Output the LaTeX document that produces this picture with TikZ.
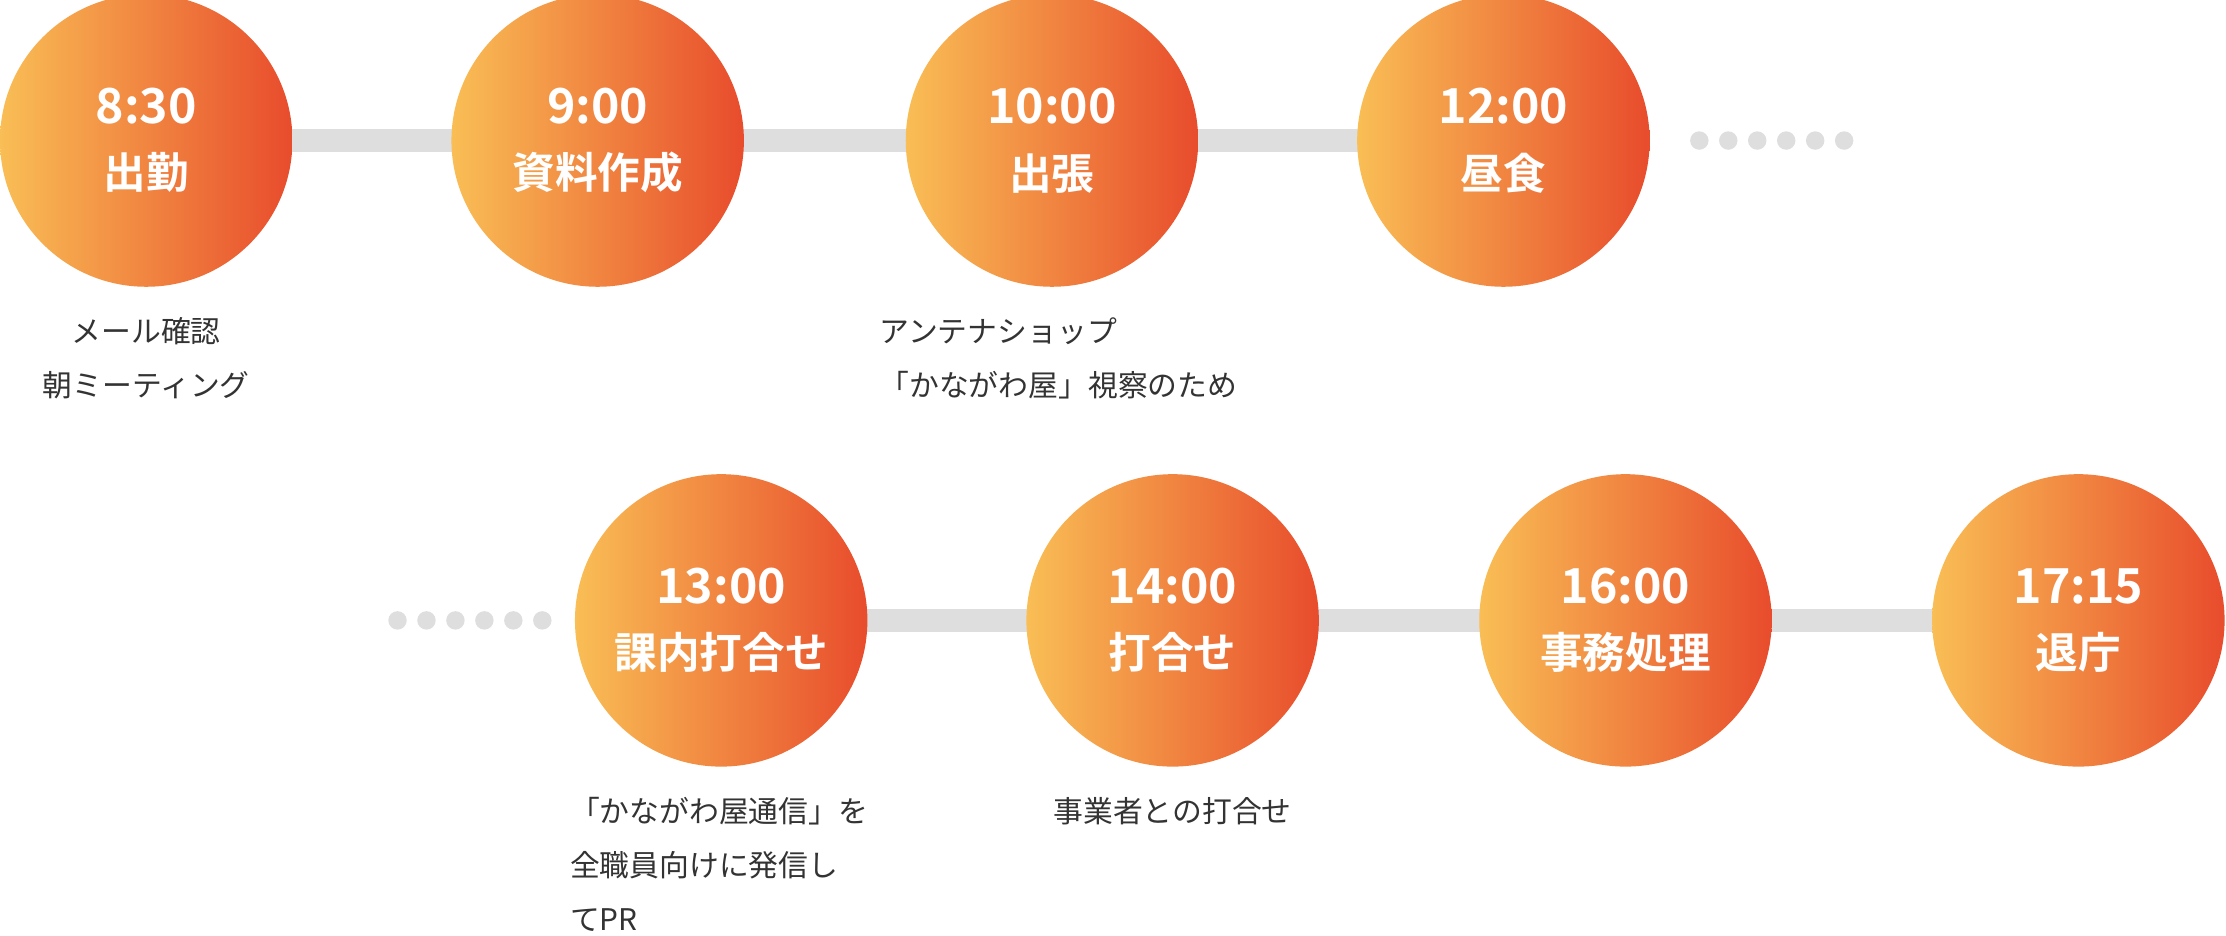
\documentclass[tikz,border=0pt]{standalone}
\usepackage{fontspec}
\newfontfamily\jp{Noto Sans CJK JP}
\newfontfamily\jpb{Noto Sans CJK JP Bold}
\begin{document}
\begin{tikzpicture}[x=1pt,y=-1pt,
  bar/.style={line width=16pt,color=black!13},
  dot/.style={circle,fill=black!13,inner sep=0pt,minimum size=13pt},
  ball/.style={circle,minimum size=206pt,inner sep=0pt,left color={rgb,255:red,249;green,190;blue,85},right color={rgb,255:red,232;green,76;blue,44},text=white,align=center,font=\jpb\fontsize{30}{46}\selectfont},
  captxt/.style={font=\jp\fontsize{21}{38}\selectfont,text=black!80,align=left,anchor=north west}]
\useasboundingbox (0,0) rectangle (1568,659);
\draw[bar] (103,99) -- (1059,99);
\draw[bar] (508,437) -- (1464,437);
\foreach \i in {0,...,5}{\node[dot] (a\i) at (1197+\i*20.4,99){}; \node[dot] (b\i) at (280+\i*20.4,437){};}
\node[ball] (n1) at (103,99) {\fontsize{34}{46}\selectfont 8:30\\出勤};
\node[ball] (n2) at (421,99) {\fontsize{34}{46}\selectfont 9:00\\資料作成};
\node[ball] (n3) at (741,99) {\fontsize{34}{46}\selectfont 10:00\\出張};
\node[ball] (n4) at (1059,99) {\fontsize{34}{46}\selectfont 12:00\\昼食};
\node[ball] (m1) at (508,437) {\fontsize{34}{46}\selectfont 13:00\\課内打合せ};
\node[ball] (m2) at (826,437) {\fontsize{34}{46}\selectfont 14:00\\打合せ};
\node[ball] (m3) at (1145,437) {\fontsize{34}{46}\selectfont 16:00\\事務処理};
\node[ball] (m4) at (1464,437) {\fontsize{34}{46}\selectfont 17:15\\退庁};
\node[captxt,anchor=north,align=center] (c1) at (103,220) {メール確認\\朝ミーティング};
\node[captxt] (c3) at (616,220) {アンテナショップ\\「かながわ屋」視察のため};
\node[captxt] (c5) at (398,558) {「かながわ屋通信」を\\全職員向けに発信し\\てPR};
\node[captxt,anchor=north] (c6) at (826,558) {事業者との打合せ};
\end{tikzpicture}
\end{document}
